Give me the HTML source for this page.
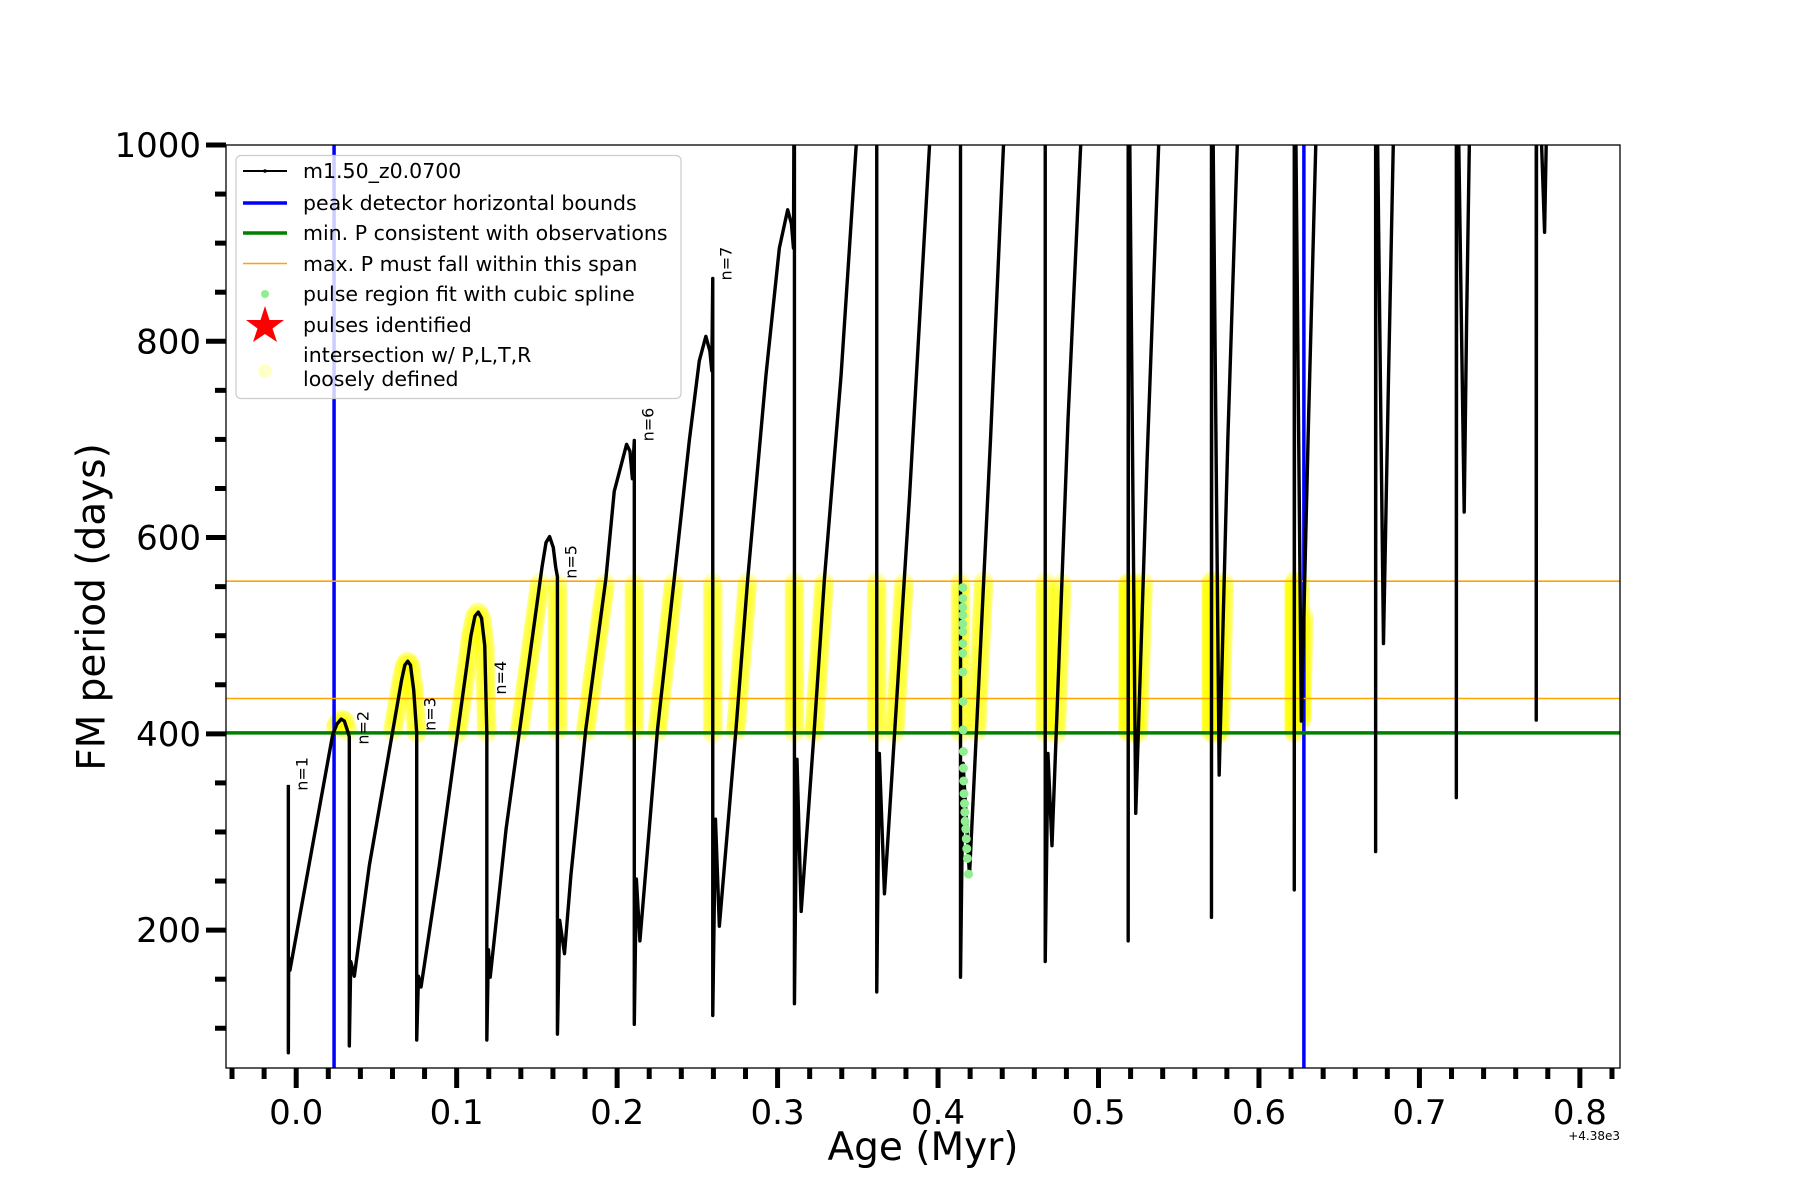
<!DOCTYPE html>
<html><head><meta charset="utf-8">
<style>
html,body{margin:0;padding:0;background:#fff;}
svg{display:block;font-family:"DejaVu Sans","Liberation Sans",sans-serif;}
</style></head>
<body>
<svg id="chart" width="1800" height="1200" viewBox="0 0 1800 1200" xmlns="http://www.w3.org/2000/svg">
<defs><clipPath id="plotclip"><rect x="226" y="145" width="1394" height="923"/></clipPath></defs>
<rect x="0" y="0" width="1800" height="1200" fill="#fff"/>
<g id="yellow" clip-path="url(#plotclip)"></g>
<g id="refs" clip-path="url(#plotclip)"></g>
<g id="series" clip-path="url(#plotclip)"></g>
<g id="green" clip-path="url(#plotclip)"></g>
<g id="labels"></g>
<rect x="226" y="145" width="1394" height="923" fill="none" stroke="#000" stroke-width="1.3"/>
<g id="axes"></g>
<text x="94" y="607" font-size="39" text-anchor="middle" transform="rotate(-90 94 607)" dominant-baseline="middle">FM period (days)</text>
<text x="923" y="1160" font-size="39" text-anchor="middle">Age (Myr)</text>
<text x="1620" y="1140" font-size="12" text-anchor="end">+4.38e3</text>
<g id="legend">
  <rect x="236" y="155.5" width="445" height="243" rx="5" fill="rgba(255,255,255,0.8)" stroke="#ccc" stroke-width="1.2"/>
  <g><line x1="243" y1="171" x2="287" y2="171" stroke="#000" stroke-width="2"/><circle cx="265" cy="171" r="1.8" fill="#000"/><text x="303" y="178" font-size="20.5">m1.50_z0.0700</text></g>
  <g><line x1="243" y1="203" x2="287" y2="203" stroke="#0000ff" stroke-width="3.5"/><text x="303" y="210" font-size="20.5">peak detector horizontal bounds</text></g>
  <g><line x1="243" y1="233" x2="287" y2="233" stroke="#008000" stroke-width="3.5"/><text x="303" y="240" font-size="20.5">min. P consistent with observations</text></g>
  <g><line x1="243" y1="263.5" x2="287" y2="263.5" stroke="#ffa500" stroke-width="1.5"/><text x="303" y="271" font-size="20.5">max. P must fall within this span</text></g>
  <g><circle cx="265" cy="294" r="4" fill="#90ee90"/><text x="303" y="301" font-size="20.5">pulse region fit with cubic spline</text></g>
  <g><polygon points="265,306 269.5,320 284,320 272.5,328.5 277,342 265,334 253,342 257.5,328.5 246,320 260.5,320" fill="#ff0000"/><text x="303" y="332" font-size="20.5">pulses identified</text></g>
  <g><circle cx="265" cy="371" r="7" fill="#ffff66" opacity="0.35"/><text x="303" y="362" font-size="20.5">intersection w/ P,L,T,R</text><text x="303" y="386" font-size="20.5">loosely defined</text></g>
</g>
</svg>
<script>
// ---- data ----
const ageT = [
-0.0049,-0.0049,-0.0047,-0.0039,0.0227,0.0254,0.0280,0.0300,0.0320,0.0331,
0.0331,0.0340,0.0362,0.0456,0.0657,0.0677,0.0695,0.0712,0.0732,0.0751,
0.0751,0.0762,0.0778,0.0892,0.1089,0.1114,0.1135,0.1155,0.1175,0.1188,
0.1188,0.1198,0.1209,0.1308,0.1532,0.1557,0.1579,0.1602,0.1617,0.1628,
0.1628,0.1642,0.1672,0.1712,0.1805,0.1930,0.1982,0.2059,0.2080,0.2095,0.2107,
0.2107,0.2120,0.2142,0.2252,0.2356,0.2450,0.2512,0.2553,0.2578,0.2590,0.2596,
0.2596,0.2613,0.2637,0.2741,0.2814,0.2928,0.3011,0.3063,0.3086,0.3099,0.3105,
0.3105,0.3121,0.3147,0.3229,0.3292,0.3396,0.3490,0.3563,0.3618,
0.3618,0.3634,0.3666,0.3822,0.3947,0.4026,0.4140,
0.4140,0.4156,0.4196,0.4327,0.4408,0.4529,0.4668,
0.4668,0.4685,0.4710,0.4810,0.4889,0.4981,0.5185,
0.5185,0.5187,0.5232,0.5303,0.5375,0.5484,0.5704,
0.5704,0.5706,0.5752,0.5806,0.5865,0.5987,0.6220,
0.6220,0.6222,0.6264,0.6309,0.6354,0.6490,0.6727,
0.6727,0.6729,0.6776,0.6807,0.6837,0.6993,0.7230,
0.7230,0.7232,0.7279,0.7294,0.7311,0.7445,0.7728,
0.7728,0.7730,0.7780,0.7790,0.7807
];
const periodV = [
348,75,172,159,399,410,415,413,403,397,
82,168,153,266,455,470,474,470,445,401,
88,153,142,266,500,520,524,518,490,401,
88,180,152,303,570,595,601,590,570,560,
94,210,176,256,405,558,647,695,688,660,699,
104,252,189,405,558,699,780,805,790,770,864,
113,313,204,405,558,766,895,934,920,895,1150,
125,374,219,405,558,766,1000,1150,1150,
137,380,237,641,1000,1150,1150,
152,370,256,700,1000,1150,1150,
168,380,286,720,1000,1150,1150,
189,1150,319,680,1000,1150,1150,
213,1150,358,700,1000,1150,1150,
241,1150,413,720,1000,1150,1150,
280,1150,492,760,1000,1150,1150,
335,1150,626,820,1000,1150,1150,
414,1150,911,1000,1150
];
const greenT = [0.4154,0.4154,0.4154,0.4154,0.4154,0.4154,0.4154,0.4154,0.4154,0.4156,0.4156,0.4158,0.4158,0.4160,0.4162,0.4165,0.4167,0.4169,0.4173,0.4176,0.4179,0.4183,0.4190];
const greenV = [549,538,529,521,512,504,492,482,463,433,404,382,365,352,339,329,320,311,303,293,283,273,257];
const pulseLabels = ["n=1","n=2","n=3","n=4","n=5","n=6","n=7"];
const pulseLabelT = [-0.0049,0.0331,0.0751,0.1188,0.1628,0.2107,0.2596];
const pulseLabelV = [342,389,403,440,558,698,862];
const boundsT = [0.0236,0.6280];
const minP = [401];
const maxPSpan = [436,555.5];
const yTicks = [200,400,600,800,1000];
const xTicks = [0.0,0.1,0.2,0.3,0.4,0.5,0.6,0.7,0.8];
const xTickLabels = ["0.0","0.1","0.2","0.3","0.4","0.5","0.6","0.7","0.8"];

// ---- axes ----
const X0=226,X1=1620,Y0=145,Y1=1068;
const tMin=-0.04375,tMax=0.8250,vMin=59.5,vMax=1000;
function X(t){return X0+(t-tMin)/(tMax-tMin)*(X1-X0);}
function Y(v){return Y0+(vMax-v)/(vMax-vMin)*(Y1-Y0);}
const NS="http://www.w3.org/2000/svg";
function mk(tag,attrs,parent){const e=document.createElementNS(NS,tag);for(const k in attrs)e.setAttribute(k,attrs[k]);parent.appendChild(e);return e;}

const axes=document.getElementById('axes');
for(let i=0;i<yTicks.length;i++){
  const y=Y(yTicks[i]);
  const tk=mk('line',{x1:X0-20,y1:y,x2:X0,y2:y,stroke:'#000','stroke-width':5},axes);
  
  
  const tx=mk('text',{x:X0-25,y:y+12,'font-size':34,'text-anchor':'end'},axes);
  tx.textContent=String(yTicks[i]);
  
  
}
for(let v=100;v<=950;v+=50){
  if(v%200===0)continue;
  const y=Y(v);
  const tk=mk('line',{x1:X0-11,y1:y,x2:X0,y2:y,stroke:'#000','stroke-width':5},axes);
  
  
}
for(let i=0;i<xTicks.length;i++){
  const x=X(xTicks[i]);
  const tk=mk('line',{x1:x,y1:Y1,x2:x,y2:Y1+20,stroke:'#000','stroke-width':5},axes);
  
  
  const tx=mk('text',{x:x,y:Y1+56,'font-size':34,'text-anchor':'middle'},axes);
  tx.textContent=xTickLabels[i];
  
  
}
for(let k=-2;k<=41;k++){
  if(k%5===0)continue;
  const x=X(k*0.02);
  if(x<X0-1||x>X1+1)continue;
  const tk=mk('line',{x1:x,y1:Y1,x2:x,y2:Y1+11,stroke:'#000','stroke-width':5},axes);
  
  
}

// ---- yellow intersection markers ----
const yel=document.getElementById('yellow');
for(let i=1;i<ageT.length;i++){
  const xa=X(ageT[i-1]),ya=Y(periodV[i-1]),xb=X(ageT[i]),yb=Y(periodV[i]);
  const L=Math.hypot(xb-xa,yb-ya);const step=3.5;
  for(let s=0;s<L;s+=step){
    const f=L?s/L:0;const t=ageT[i-1]+f*(ageT[i]-ageT[i-1]);const v=periodV[i-1]+f*(periodV[i]-periodV[i-1]);
    if(v>=minP[0]-1&&v<=maxPSpan[1]&&t>=boundsT[0]&&t<=boundsT[1]){
      const c=mk('circle',{cx:xa+f*(xb-xa),cy:ya+f*(yb-ya),r:10,fill:'#ffff00','fill-opacity':0.25},yel);
      
      
    }
  }
}

// ---- reference lines ----
const refs=document.getElementById('refs');
for(const b of boundsT){
  const l=mk('line',{x1:X(b),y1:Y0,x2:X(b),y2:Y1,stroke:'#0000ff','stroke-width':3.5},refs);
  
  
}
for(const p of maxPSpan){
  const l=mk('line',{x1:X0,y1:Y(p),x2:X1,y2:Y(p),stroke:'#ffa500','stroke-width':1.6},refs);
  
  
}
const gl=mk('line',{x1:X0,y1:Y(minP[0]),x2:X1,y2:Y(minP[0]),stroke:'#008000','stroke-width':3.5},refs);



// ---- series ----
const ser=document.getElementById('series');
let d='';
for(let i=0;i<ageT.length;i++){d+=(i?'L':'M')+X(ageT[i]).toFixed(2)+','+Y(periodV[i]).toFixed(2);}
const path=mk('path',{d:d,fill:'none',stroke:'#000','stroke-width':3.4,'stroke-linejoin':'round'},ser);



// ---- green spline points ----
const gr=document.getElementById('green');
for(let i=0;i<greenT.length;i++){
  const c=mk('circle',{cx:X(greenT[i]),cy:Y(greenV[i]),r:4.5,fill:'#90ee90'},gr);
  
  
}

// ---- pulse labels ----
const lab=document.getElementById('labels');
for(let i=0;i<pulseLabels.length;i++){
  const x=X(pulseLabelT[i])+19,y=Y(pulseLabelV[i]);
  const t=mk('text',{x:x,y:y,'font-size':16,transform:'rotate(-90 '+x+' '+y+')'},lab);
  t.textContent=pulseLabels[i];
  
  
}
</script>
</body></html>
